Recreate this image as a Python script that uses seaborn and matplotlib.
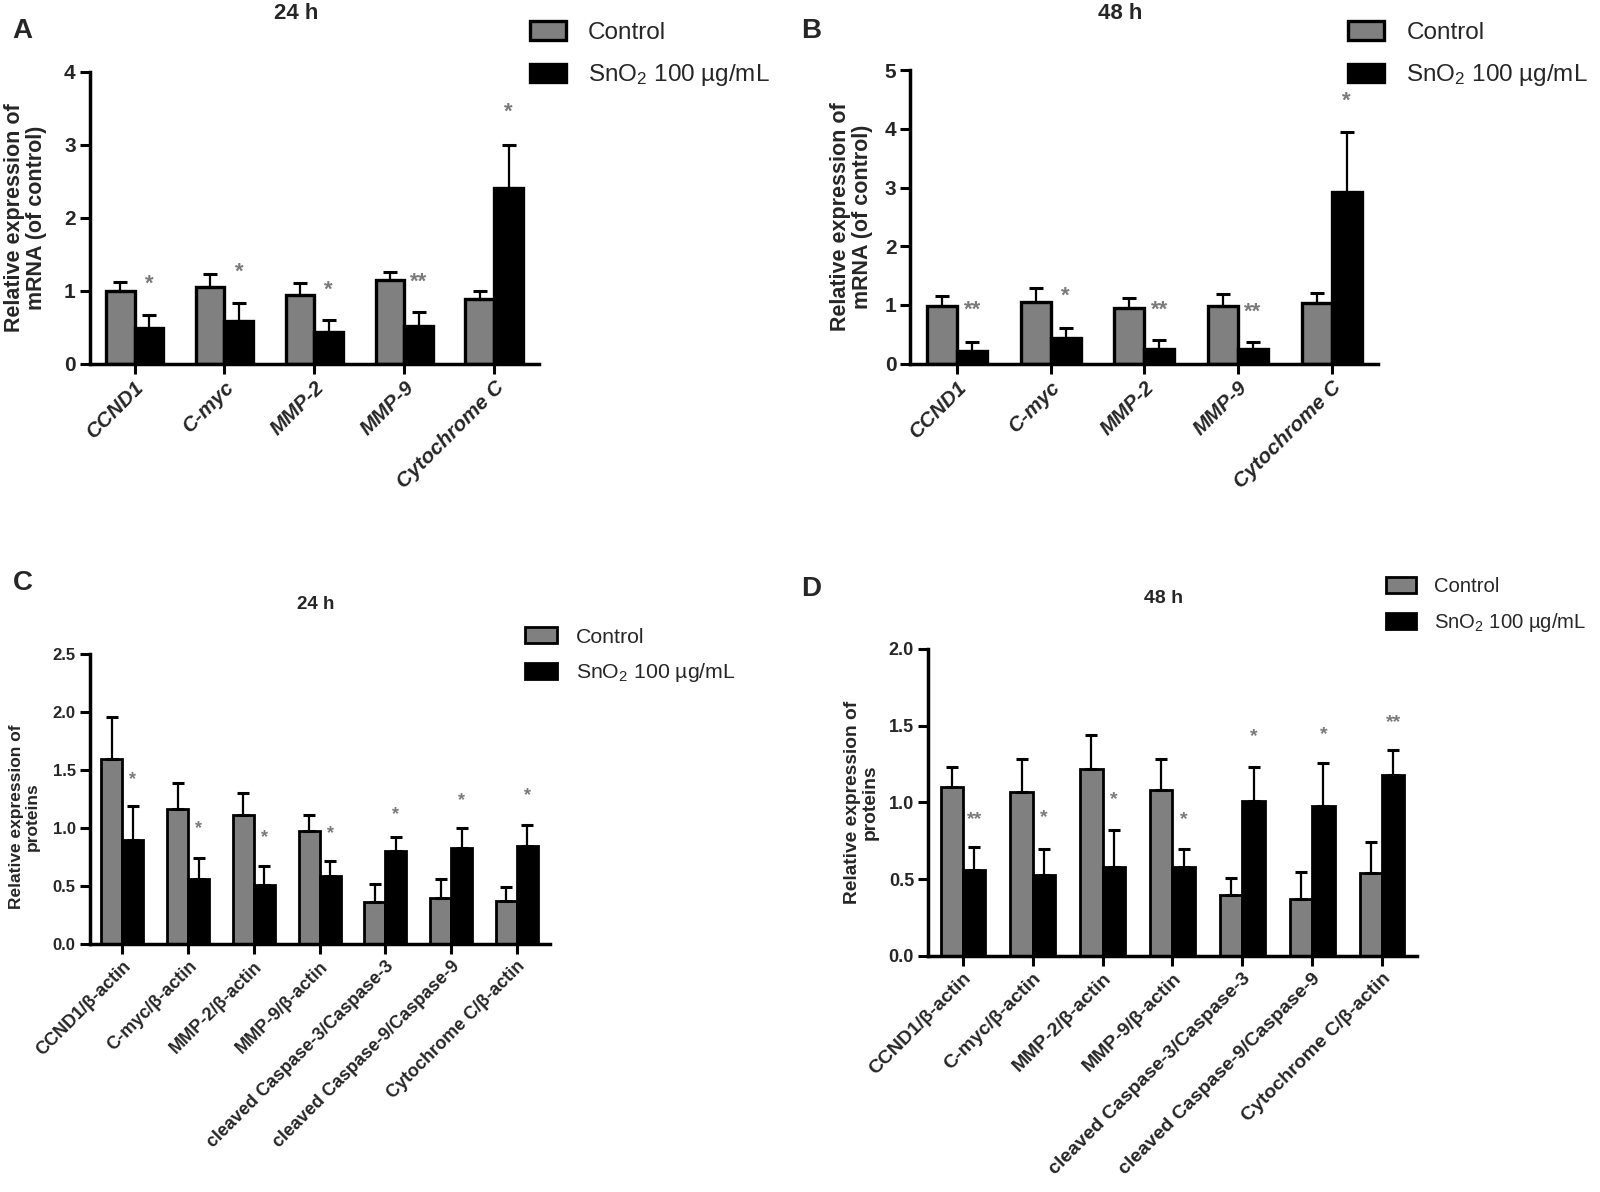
import numpy as np
import pandas as pd
import matplotlib
matplotlib.use('Agg')
import matplotlib.pyplot as plt
import seaborn as sns
from matplotlib.ticker import FormatStrFormatter

# Data
groups = ['Control', 'SnO$_2$ 100 µg/mL']

genes = ['CCND1', 'C-myc', 'MMP-2', 'MMP-9', 'Cytochrome C']
proteins = ['CCND1/β-actin', 'C-myc/β-actin', 'MMP-2/β-actin', 'MMP-9/β-actin',
            'cleaved Caspase-3/Caspase-3', 'cleaved Caspase-9/Caspase-9',
            'Cytochrome C/β-actin']

# A: mRNA 24 h
a_ctrl = [0.99, 1.05, 0.94, 1.14, 0.89]
a_ctrl_sd = [0.13, 0.18, 0.16, 0.12, 0.10]
a_sno2 = [0.49, 0.58, 0.43, 0.51, 2.40]
a_sno2_sd = [0.18, 0.25, 0.16, 0.20, 0.59]
a_sig = ['*', '*', '*', '**', '*']
a_sig_y = [1.08, 1.25, 1.01, 1.11, 3.44]

# B: mRNA 48 h
b_ctrl = [0.98, 1.05, 0.94, 0.98, 1.03]
b_ctrl_sd = [0.17, 0.23, 0.17, 0.21, 0.18]
b_sno2 = [0.21, 0.44, 0.24, 0.24, 2.92]
b_sno2_sd = [0.16, 0.16, 0.16, 0.13, 1.03]
b_sig = ['**', '*', '**', '**', '*']
b_sig_y = [0.91, 1.14, 0.91, 0.88, 4.48]

# C: proteins 24 h
c_ctrl = [1.60, 1.17, 1.11, 0.98, 0.36, 0.40, 0.37]
c_ctrl_sd = [0.36, 0.22, 0.19, 0.13, 0.16, 0.16, 0.12]
c_sno2 = [0.90, 0.56, 0.51, 0.59, 0.80, 0.83, 0.85]
c_sno2_sd = [0.29, 0.18, 0.16, 0.13, 0.12, 0.17, 0.18]
c_sig = ['*', '*', '*', '*', '*', '*', '*']
c_sig_y = [1.42, 1.00, 0.92, 0.95, 1.12, 1.24, 1.28]

# D: proteins 48 h
d_ctrl = [1.10, 1.07, 1.22, 1.08, 0.40, 0.37, 0.54]
d_ctrl_sd = [0.13, 0.21, 0.22, 0.20, 0.11, 0.18, 0.20]
d_sno2 = [0.56, 0.53, 0.58, 0.58, 1.01, 0.98, 1.18]
d_sno2_sd = [0.15, 0.17, 0.24, 0.12, 0.22, 0.28, 0.16]
d_sig = ['**', '*', '*', '*', '*', '*', '**']
d_sig_y = [0.89, 0.90, 1.02, 0.89, 1.43, 1.44, 1.52]

sns.set_style('ticks')
plt.rcParams['font.family'] = ['Liberation Sans', 'DejaVu Sans']
plt.rcParams['mathtext.fontset'] = 'custom'
plt.rcParams['mathtext.rm'] = 'Liberation Sans'
plt.rcParams['mathtext.default'] = 'regular'

fig = plt.figure(figsize=(16, 11.92), dpi=100)


def draw_panel(ax, cats, ctrl, ctrl_sd, sno2, sno2_sd, sig, sig_y, ylim, yticks,
               fmt, ylabel, fs_tick, fs_x, fs_lab, italic, capsize, edge_lw,
               legend_xy, legend_fs, spacing):
    df = pd.DataFrame({
        'cat': cats * 2,
        'group': [groups[0]] * len(cats) + [groups[1]] * len(cats),
        'value': ctrl + sno2,
    })
    sns.barplot(data=df, x='cat', y='value', hue='group', order=cats,
                hue_order=groups, palette=['#808080', '#000000'],
                edgecolor='black', linewidth=edge_lw, width=0.64,
                errorbar=None, legend=False, ax=ax)

    # upward error bars (mean + SD)
    for cont, means, sds in zip(ax.containers, [ctrl, sno2], [ctrl_sd, sno2_sd]):
        xs = [p.get_x() + p.get_width() / 2 for p in cont]
        ax.errorbar(xs, means, yerr=[np.zeros(len(means)), sds], fmt='none',
                    ecolor='black', elinewidth=1.6, capsize=capsize,
                    capthick=2.2, zorder=1)

    # significance marks above treated bars
    xs = [p.get_x() + p.get_width() / 2 for p in ax.containers[1]]
    for x, s, y in zip(xs, sig, sig_y):
        ax.text(x, y, s, ha='center', va='center', fontsize=fs_tick + 1,
                color='#7a7a7a', fontweight='bold')

    ax.set_xlim(-0.5, len(cats) - 0.5)
    ax.set_ylim(*ylim)
    ax.set_yticks(yticks)
    ax.yaxis.set_major_formatter(FormatStrFormatter(fmt))
    ax.set_xlabel('')
    ax.set_ylabel(ylabel, fontsize=fs_lab, fontweight='bold', linespacing=1.1)
    ax.set_xticks(range(len(cats)))
    ax.set_xticklabels(cats, rotation=45, ha='right', rotation_mode='anchor',
                       fontsize=fs_x, fontweight='bold',
                       fontstyle='italic' if italic else 'normal')
    for t in ax.get_yticklabels():
        t.set_fontweight('bold')
        t.set_fontsize(fs_tick)
    ax.tick_params(axis='both', width=2.2, length=7, color='black', pad=3)
    sns.despine(ax=ax)
    for sp in ['left', 'bottom']:
        ax.spines[sp].set_linewidth(2.5)
        ax.spines[sp].set_color('black')

    handles = [ax.containers[0][0], ax.containers[1][0]]
    ax.legend(handles, groups, loc='upper left', bbox_to_anchor=legend_xy,
              bbox_transform=fig.transFigure, frameon=False,
              fontsize=legend_fs, handlelength=1.5, handleheight=0.8,
              labelspacing=spacing, borderpad=0, borderaxespad=0,
              handletextpad=0.9)


ax_a = fig.add_axes([0.056, 0.695, 0.281, 0.245])
ax_b = fig.add_axes([0.569, 0.695, 0.2925, 0.246])
ax_c = fig.add_axes([0.056, 0.208, 0.2875, 0.243])
ax_d = fig.add_axes([0.58, 0.198, 0.3056, 0.2576])

draw_panel(ax_a, genes, a_ctrl, a_ctrl_sd, a_sno2, a_sno2_sd, a_sig, a_sig_y,
           (0, 4), [0, 1, 2, 3, 4], '%d', 'Relative expression of\nmRNA (of control)',
           15, 15, 15.5, True, 4.7, 2.4, (0.331, 0.982), 17.5, 0.75)
draw_panel(ax_b, genes, b_ctrl, b_ctrl_sd, b_sno2, b_sno2_sd, b_sig, b_sig_y,
           (0, 5), [0, 1, 2, 3, 4, 5], '%d', 'Relative expression of\nmRNA (of control)',
           15, 15, 15.5, True, 4.7, 2.4, (0.8425, 0.982), 17.5, 0.75)
draw_panel(ax_c, proteins, c_ctrl, c_ctrl_sd, c_sno2, c_sno2_sd, c_sig, c_sig_y,
           (0, 2.5), [0, 0.5, 1.0, 1.5, 2.0, 2.5], '%.1f', 'Relative expression of\nproteins',
           12, 13, 12.5, False, 4, 2.0, (0.328, 0.474), 15.3, 0.7)
draw_panel(ax_d, proteins, d_ctrl, d_ctrl_sd, d_sno2, d_sno2_sd, d_sig, d_sig_y,
           (0, 2.0), [0, 0.5, 1.0, 1.5, 2.0], '%.1f', 'Relative expression of\nproteins',
           13, 14, 13.8, False, 4, 2.0, (0.866, 0.516), 14.6, 0.75)

ax_a.yaxis.set_label_coords(-0.094, 0.5)
ax_b.yaxis.set_label_coords(-0.079, 0.5)
ax_c.yaxis.set_label_coords(-0.108, 0.44)
ax_d.yaxis.set_label_coords(-0.10, 0.5)

# panel titles and letters
fig.text(0.185, 0.989, '24 h', ha='center', va='center', fontsize=16, fontweight='bold')
fig.text(0.70, 0.989, '48 h', ha='center', va='center', fontsize=16, fontweight='bold')
fig.text(0.197, 0.4925, '24 h', ha='center', va='center', fontsize=13.5, fontweight='bold')
fig.text(0.727, 0.4975, '48 h', ha='center', va='center', fontsize=14, fontweight='bold')

fig.text(0.014, 0.974, 'A', ha='center', va='center', fontsize=20, fontweight='bold')
fig.text(0.507, 0.974, 'B', ha='center', va='center', fontsize=20, fontweight='bold')
fig.text(0.014, 0.511, 'C', ha='center', va='center', fontsize=20, fontweight='bold')
fig.text(0.507, 0.506, 'D', ha='center', va='center', fontsize=20, fontweight='bold')

plt.savefig('out.png', dpi=100)
